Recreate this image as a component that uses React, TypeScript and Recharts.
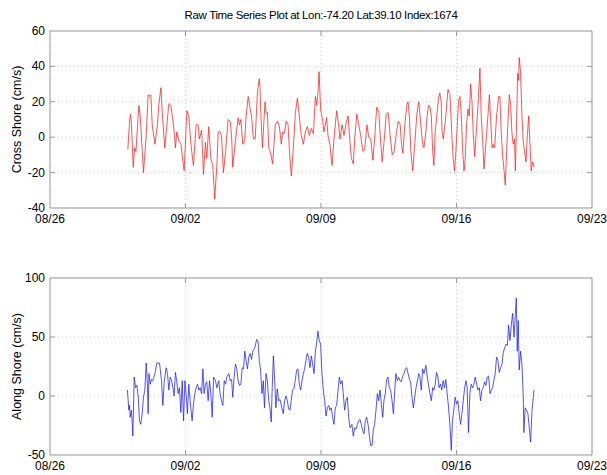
import { LineChart, Line, XAxis, YAxis, CartesianGrid, ReferenceArea, Label } from 'recharts';

// days since 08/26 00:00
const dateTicks = [0, 7, 14, 21, 28];
const dateLabels = ['08/26', '09/02', '09/09', '09/16', '09/23'];
const crossTicks = [-40, -20, 0, 20, 40, 60];
const alongTicks = [-50, 0, 50, 100];

const crossDays = [
  4.02, 4.11, 4.16, 4.21, 4.30, 4.37, 4.44, 4.59, 4.66, 4.83, 4.97, 5.07, 5.14, 5.21, 5.28, 5.42, 5.55, 5.62, 5.73, 5.80,
  5.93, 6.04, 6.14, 6.24, 6.38, 6.48, 6.55, 6.66, 6.76, 6.93, 7.07, 7.17, 7.28, 7.41, 7.55, 7.65, 7.72, 7.83, 7.93, 8.03,
  8.10, 8.20, 8.31, 8.41, 8.51, 8.62, 8.69, 8.79, 8.86, 8.96, 9.07, 9.20, 9.31, 9.38, 9.44, 9.58, 9.72, 9.79, 9.86, 9.96,
  10.06, 10.13, 10.24, 10.34, 10.41, 10.51, 10.60, 10.72, 10.81, 10.85, 10.89, 10.95, 10.98, 11.04, 11.11, 11.16, 11.23, 11.30, 11.40, 11.50,
  11.58, 11.64, 11.76, 11.85, 11.95, 12.02, 12.10, 12.20, 12.30, 12.37, 12.47, 12.57, 12.68, 12.78, 12.88, 12.98, 13.09, 13.19, 13.30, 13.40,
  13.50, 13.61, 13.71, 13.78, 13.85, 13.90, 13.98, 14.09, 14.15, 14.22, 14.29, 14.36, 14.46, 14.57, 14.67, 14.74, 14.81, 14.91, 14.98, 15.09,
  15.19, 15.30, 15.40, 15.50, 15.57, 15.67, 15.74, 15.85, 15.95, 16.05, 16.16, 16.26, 16.37, 16.47, 16.57, 16.68, 16.78, 16.88, 16.99, 17.06,
  17.16, 17.27, 17.37, 17.47, 17.57, 17.68, 17.78, 17.88, 17.99, 18.09, 18.16, 18.23, 18.33, 18.43, 18.50, 18.57, 18.64, 18.74, 18.85, 18.95,
  19.05, 19.25, 19.32, 19.42, 19.49, 19.56, 19.63, 19.70, 19.77, 19.83, 19.90, 20.01, 20.07, 20.14, 20.21, 20.25, 20.32, 20.38, 20.45, 20.56,
  20.66, 20.77, 20.83, 20.90, 20.97, 21.04, 21.11, 21.18, 21.25, 21.32, 21.39, 21.45, 21.52, 21.59, 21.66, 21.73, 21.80, 21.87, 21.94, 22.01,
  22.11, 22.21, 22.28, 22.35, 22.42, 22.52, 22.63, 22.70, 22.77, 22.84, 22.90, 22.97, 23.07, 23.18, 23.24, 23.31, 23.38, 23.45, 23.52, 23.59,
  23.66, 23.73, 23.80, 23.86, 23.93, 24.00, 24.04, 24.10, 24.16, 24.21, 24.24, 24.31, 24.38, 24.45, 24.52, 24.59, 24.66, 24.73, 24.79, 24.86,
  24.93, 25.02,
];
const crossVals = [
  -7, 9, 13, 7, -17, -6, -8, 18, 12, -20, 1, 24, 23, 24, 7, -4, 7, 18, 28, 14,
  -6, 7, 19, 18, 7, -6, 3, -2, -4, -19, 15, 12, -4, -16, 7, 7, -1, 4, -21, -3,
  -12, 6, -12, -16, -35, -16, 3, 3, 1, -20, -8, 10, 9, 1, -17, -2, 11, 7, 10, -4,
  -2, 12, 23, 16, 12, -1, -1, 26, 33, 28, 14, -1, -6, 7, 20, 14, 14, -6, -9, -15,
  -3, 7, 9, 6, -4, 3, 2, 9, 7, -8, -22, -6, 14, 22, 12, 1, -4, 3, 6, 1,
  5, 2, 23, 18, 26, 37, 16, 9, 3, 7, 11, 1, -4, -16, -1, 7, 15, 7, -1, 7,
  1, 8, 12, -3, -12, -15, -1, 13, 7, 1, -8, -7, 7, 0, -1, -13, 1, 17, 14, 1,
  -14, -1, 13, 14, 1, -10, -8, 1, 9, 7, -4, -9, 7, 18, 20, 11, -8, -19, -3, 13,
  20, -4, -6, 3, 13, 18, 17, 12, -8, -16, 3, 15, 22, 25, 20, 4, -1, 5, 12, 27,
  24, -1, -12, -19, -8, 7, 21, 23, 12, -8, -19, -12, 7, 16, 12, 30, 20, 1, -11, 1,
  18, 39, 11, -1, -18, -3, 13, 24, 9, -6, -4, -6, 12, 23, 23, 3, -10, -18, -27, -8,
  9, 24, 18, 3, -4, -1, -19, 7, 36, 32, 45, 37, 12, -3, -8, -14, 1, 12, -3, -19,
  -14, -17,
];

const alongDays = [
  4.00, 4.04, 4.07, 4.11, 4.14, 4.21, 4.28, 4.35, 4.42, 4.49, 4.56, 4.62, 4.69, 4.76, 4.83, 4.90, 4.97, 5.04, 5.07, 5.11,
  5.18, 5.24, 5.31, 5.42, 5.52, 5.66, 5.76, 5.83, 5.90, 6.00, 6.07, 6.14, 6.21, 6.28, 6.35, 6.41, 6.48, 6.55, 6.62, 6.69,
  6.76, 6.83, 6.90, 6.97, 7.03, 7.10, 7.17, 7.24, 7.34, 7.41, 7.48, 7.55, 7.62, 7.69, 7.76, 7.83, 7.90, 7.96, 8.03, 8.10,
  8.17, 8.24, 8.31, 8.38, 8.45, 8.55, 8.62, 8.72, 8.79, 8.86, 8.93, 9.00, 9.07, 9.13, 9.24, 9.31, 9.38, 9.44, 9.51, 9.58,
  9.65, 9.72, 9.79, 9.86, 9.93, 10.00, 10.06, 10.13, 10.20, 10.27, 10.34, 10.41, 10.48, 10.58, 10.68, 10.75, 10.81, 10.88, 10.95, 11.02,
  11.08, 11.16, 11.23, 11.30, 11.36, 11.43, 11.47, 11.54, 11.61, 11.67, 11.74, 11.81, 11.88, 11.98, 12.05, 12.12, 12.19, 12.26, 12.33, 12.40,
  12.46, 12.53, 12.60, 12.67, 12.74, 12.81, 12.88, 12.95, 13.02, 13.09, 13.15, 13.22, 13.29, 13.36, 13.43, 13.50, 13.57, 13.64, 13.71, 13.77,
  13.84, 13.91, 13.98, 14.05, 14.12, 14.19, 14.26, 14.33, 14.40, 14.46, 14.53, 14.60, 14.67, 14.74, 14.81, 14.88, 14.95, 15.02, 15.09, 15.15,
  15.22, 15.29, 15.36, 15.43, 15.50, 15.60, 15.67, 15.74, 15.81, 15.88, 15.95, 16.02, 16.08, 16.15, 16.22, 16.29, 16.36, 16.43, 16.50, 16.57,
  16.64, 16.70, 16.77, 16.84, 16.91, 16.98, 17.05, 17.12, 17.19, 17.25, 17.32, 17.39, 17.46, 17.53, 17.60, 17.67, 17.74, 17.81, 17.87, 17.94,
  18.01, 18.08, 18.15, 18.22, 18.29, 18.36, 18.43, 18.50, 18.57, 18.63, 18.70, 18.77, 18.84, 18.91, 18.98, 19.05, 19.11, 19.18, 19.25, 19.32,
  19.42, 19.49, 19.56, 19.63, 19.70, 19.77, 19.83, 19.90, 19.97, 20.04, 20.10, 20.17, 20.24, 20.31, 20.38, 20.45, 20.52, 20.59, 20.66, 20.73,
  20.79, 20.86, 20.93, 21.00, 21.07, 21.14, 21.21, 21.28, 21.35, 21.42, 21.49, 21.55, 21.62, 21.69, 21.76, 21.83, 21.90, 21.97, 22.04, 22.11,
  22.18, 22.24, 22.31, 22.38, 22.45, 22.52, 22.59, 22.66, 22.73, 22.80, 22.87, 22.93, 23.00, 23.07, 23.14, 23.21, 23.28, 23.35, 23.42, 23.49,
  23.56, 23.63, 23.69, 23.76, 23.83, 23.90, 23.97, 24.02, 24.09, 24.14, 24.19, 24.24, 24.31, 24.38, 24.45, 24.48, 24.55, 24.62, 24.69, 24.76,
  24.83, 24.90, 24.97, 25.00,
];
const alongVals = [
  5, -4, -12, -8, -18, -12, -34, 16, 7, 9, -1, -21, -24, -15, -1, 5, 28, 7, -15, 19,
  10, 14, 13, 19, 28, 28, 13, -8, 12, 24, 19, 5, 16, 13, 7, 0, 20, 12, 2, 7,
  -14, 13, -21, 13, 2, -15, 10, -4, -21, -7, 2, 7, 10, 5, 7, 2, 23, 2, 10, 12,
  -4, 13, 2, -18, 16, 13, 7, 13, 2, -4, -8, 13, 10, 16, 19, 13, 14, -1, 16, 27,
  23, 13, 9, 10, 24, 23, 38, 30, 23, 33, 36, 31, 38, 41, 48, 46, 30, 22, 2, 13,
  -10, 19, 13, -4, -10, -22, 2, 34, 13, -10, 6, -4, -3, -10, -15, -4, 0, -4, -11, -12,
  -4, 5, 6, 13, 22, 23, 10, 5, 13, 19, 23, 30, 36, 33, 24, 34, 27, 19, 38, 44,
  55, 47, 44, 19, 5, -4, -17, -10, -8, -12, -10, -18, -24, -10, -8, 5, 16, 10, 13, 2,
  -12, -4, -1, -18, -27, -24, -34, -27, -28, -24, -21, -20, -24, -29, -32, -21, -18, -24, -34, -42,
  -42, -29, -24, -12, 2, -4, 5, -7, -18, -4, 2, 14, 16, 7, 5, -4, -15, 5, 19, 13,
  16, 13, 12, 17, 19, 23, 24, 19, 14, 12, -1, -10, -1, 7, 13, 19, 16, 5, 23, 19,
  26, 16, 9, 2, -4, 7, 5, 10, 20, 16, 7, 10, 5, 13, 7, 14, 2, -10, -24, -46,
  -21, -12, -1, -7, -4, -15, -24, -15, -4, 7, 13, 7, -31, 2, 10, 7, 10, 16, 10, 5,
  7, -4, 5, 7, 12, 9, 16, 17, 2, 5, 7, 13, 19, 33, 30, 20, 24, 27, 37, 41,
  44, 43, 60, 47, 60, 70, 50, 64, 83, 38, 64, 22, 38, 27, -1, -31, -10, -12, -15, -27,
  -39, -12, -1, 5,
];

const crossData = crossDays.map((t, i) => ({ t, v: crossVals[i] }));
const alongData = alongDays.map((t, i) => ({ t, v: alongVals[i] }));

const FONT = '"Liberation Sans", Arial, Helvetica, sans-serif';
const FRAME = '#9a9a9a';
const PLOT_L = 50;
const PLOT_R = 592;

const makeYTick = (top: number, bottom: number) => (props: any) => {
  const y = props.payload.coordinate;
  const edge = Math.abs(y - top) < 1 || Math.abs(y - bottom) < 1;
  return (
    <g>
      <text x={PLOT_L - 5} y={y + 4} textAnchor="end" fontSize={12} fontFamily={FONT} fill="#000">
        {props.payload.value}
      </text>
      {!edge && <line x1={PLOT_L} x2={PLOT_L + 5} y1={y} y2={y} stroke={FRAME} />}
      {!edge && <line x1={PLOT_R - 5} x2={PLOT_R} y1={y} y2={y} stroke={FRAME} />}
    </g>
  );
};

const makeXTick = (top: number, bottom: number) => (props: any) => {
  const x = props.payload.coordinate;
  const v = props.payload.value;
  const edge = Math.abs(x - PLOT_L) < 1 || Math.abs(x - PLOT_R) < 1;
  return (
    <g>
      <text x={x} y={bottom + 15} textAnchor="middle" fontSize={12} fontFamily={FONT} fill="#000">
        {dateLabels[dateTicks.indexOf(v)]}
      </text>
      {!edge && <line x1={x} x2={x} y1={bottom - 5} y2={bottom} stroke={FRAME} />}
      {!edge && <line x1={x} x2={x} y1={top} y2={top + 5} stroke={FRAME} />}
    </g>
  );
};

const yLabel = (text: string, cy: number) => () => (
  <text
    x={17}
    y={cy}
    transform={`rotate(-90 17 ${cy})`}
    textAnchor="middle"
    dominantBaseline="central"
    fontSize={12.5}
    fontFamily={FONT}
    fill="#000"
  >
    {text}
  </text>
);

export default function App() {
  // top panel: plot area y 31..208 ; bottom panel (chart coords) 38..215
  return (
    <div style={{ position: 'absolute', left: 0, top: 0, width: 607, height: 475, background: '#fff', fontFamily: FONT }}>
      <div
        style={{
          position: 'absolute', left: PLOT_L, width: PLOT_R - PLOT_L, top: 9, textAlign: 'center',
          fontSize: 11.5, letterSpacing: -0.35, color: '#000',
        }}
      >
        Raw Time Series Plot at Lon:-74.20 Lat:39.10 Index:1674
      </div>

      <div style={{ position: 'absolute', left: 0, top: 0 }}>
        <LineChart width={607} height={240} data={crossData} margin={{ top: 31, right: 15, bottom: 12, left: 0 }}>
          <CartesianGrid stroke="#cfcfcf" strokeDasharray="1 3" />
          <XAxis
            dataKey="t" type="number" domain={[0, 28]} ticks={dateTicks} height={20}
            axisLine={false} tickLine={false} tick={makeXTick(31, 208)} interval={0}
          />
          <YAxis
            type="number" domain={[-40, 60]} ticks={crossTicks} width={50}
            axisLine={false} tickLine={false} tick={makeYTick(31, 208)} interval={0}
          >
            <Label content={yLabel('Cross Shore (cm/s)', 119.5)} />
          </YAxis>
          <ReferenceArea x1={0} x2={28} y1={-40} y2={60} fill="none" stroke={FRAME} strokeWidth={1} />
          <Line
            type="linear" dataKey="v" stroke="#ff1a1a" strokeWidth={0.75} dot={false}
            isAnimationActive={false}
          />
        </LineChart>
      </div>

      <div style={{ position: 'absolute', left: 0, top: 240 }}>
        <LineChart width={607} height={235} data={alongData} margin={{ top: 38, right: 15, bottom: 0, left: 0 }}>
          <CartesianGrid stroke="#cfcfcf" strokeDasharray="1 3" />
          <XAxis
            dataKey="t" type="number" domain={[0, 28]} ticks={dateTicks} height={20}
            axisLine={false} tickLine={false} tick={makeXTick(38, 215)} interval={0}
          />
          <YAxis
            type="number" domain={[-50, 100]} ticks={alongTicks} width={50}
            axisLine={false} tickLine={false} tick={makeYTick(38, 215)} interval={0}
          >
            <Label content={yLabel('Along Shore (cm/s)', 126.5)} />
          </YAxis>
          <ReferenceArea x1={0} x2={28} y1={-50} y2={100} fill="none" stroke={FRAME} strokeWidth={1} />
          <Line
            type="linear" dataKey="v" stroke="#1a1aff" strokeWidth={0.75} dot={false}
            isAnimationActive={false}
          />
        </LineChart>
      </div>
    </div>
  );
}
